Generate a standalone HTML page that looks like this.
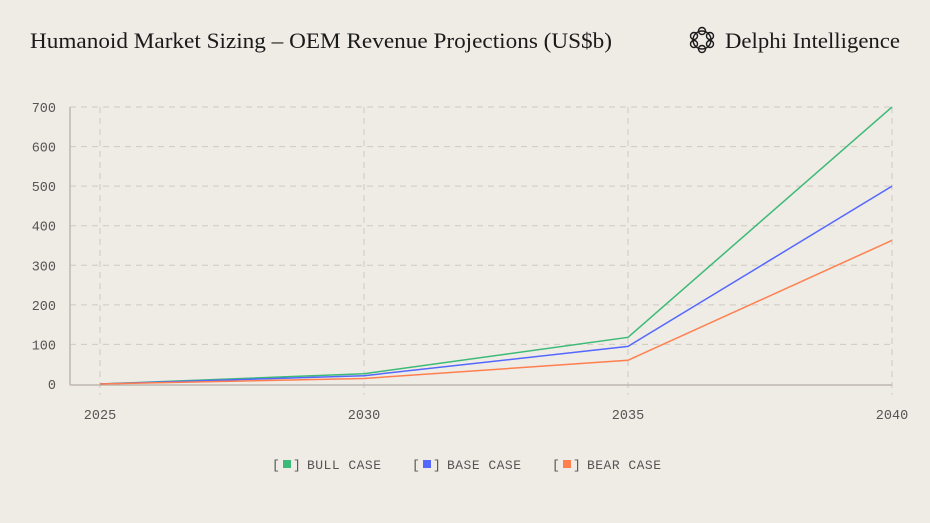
<!DOCTYPE html>
<html><head><meta charset="utf-8"><style>
body{margin:0;background:#efebe5;}
svg{display:block}
</style></head><body>
<svg id="c" width="930" height="523" viewBox="0 0 930 523">
<rect width="930" height="523" fill="#efebe5"/>
<text x="30" y="48" font-family="Liberation Serif, serif" font-size="22" fill="#1a1a1a" textLength="582" lengthAdjust="spacingAndGlyphs">Humanoid Market Sizing – OEM Revenue Projections (US$b)</text>
<g fill="none" stroke="#1a1a1a" stroke-width="1.4">
<circle cx="702" cy="40" r="9"/><circle cx="702" cy="31" r="3.5"/><circle cx="702" cy="49" r="3.5"/><circle cx="694" cy="36" r="3.5"/><circle cx="710" cy="36" r="3.5"/><circle cx="694" cy="44" r="3.5"/><circle cx="710" cy="44" r="3.5"/>
</g>
<text x="725" y="48" font-family="Liberation Serif, serif" font-size="22" fill="#1a1a1a" textLength="175" lengthAdjust="spacingAndGlyphs">Delphi Intelligence</text>
<g id="grid"></g><g id="lines"></g>
<g font-family="Liberation Mono, monospace" font-size="13" fill="#555">
<g><text x="272" y="469">[</text><rect x="283" y="460" width="8" height="8" fill="#3dba78"/><text x="293" y="469">]</text><text x="307" y="469" textLength="74">BULL CASE</text></g>
<g><text x="412" y="469">[</text><rect x="423" y="460" width="8" height="8" fill="#5468ff"/><text x="433" y="469">]</text><text x="447" y="469" textLength="74">BASE CASE</text></g>
<g><text x="552" y="469">[</text><rect x="563" y="460" width="8" height="8" fill="#ff7f4f"/><text x="573" y="469">]</text><text x="587" y="469" textLength="74">BEAR CASE</text></g>
</g>
</svg>
<script>
const years=[2025,2030,2035,2040];
const bull=[0,26,118,700];
const base=[0,21,95,500];
const bear=[0,14,60,363];
const yTicks=[0,100,200,300,400,500,600,700];
const NS="http://www.w3.org/2000/svg";
const x=v=>100+(v-2025)/15*792;
const y=v=>384-v/700*277;
function mk(t,a,p){const e=document.createElementNS(NS,t);for(const k in a)e.setAttribute(k,a[k]);p.appendChild(e);return e;}
const g=document.getElementById('grid');
yTicks.forEach(v=>{
 if(v>0){const l=mk('line',{x1:70,x2:892,y1:y(v),y2:y(v),stroke:'#cfcac2','stroke-dasharray':'6 5'},g);
 
 }
 const t=mk('text',{x:56,y:y(v)+5,'text-anchor':'end','font-family':'Liberation Mono, monospace','font-size':'13.5',fill:'#555'},g);
 t.textContent=v;
 
 
});
years.forEach(v=>{
 const l=mk('line',{x1:x(v),x2:x(v),y1:y(700),y2:395,stroke:'#cfcac2','stroke-dasharray':'6 5'},g);
 
 
 const t=mk('text',{x:x(v),y:419,'text-anchor':'middle','font-family':'Liberation Mono, monospace','font-size':'13.5',fill:'#555'},g);
 t.textContent=v;
 
 
});
const ya=mk('line',{x1:70,x2:70,y1:y(700),y2:385,stroke:'#bdb8b0','stroke-width':1.5},g);


const xa=mk('line',{x1:70,x2:892,y1:385,y2:385,stroke:'#bdb8b0','stroke-width':1.5},g);


const L=document.getElementById('lines');
[[bull,'#3dba78','bull-case-line'],[base,'#5468ff','base-case-line'],[bear,'#ff7f4f','bear-case-line']].forEach(([d,c,n])=>{
 const p=mk('polyline',{points:d.map((v,i)=>x(years[i])+','+y(v)).join(' '),fill:'none',stroke:c,'stroke-width':1.5},L);
 
 
});
</script>
</body></html>
